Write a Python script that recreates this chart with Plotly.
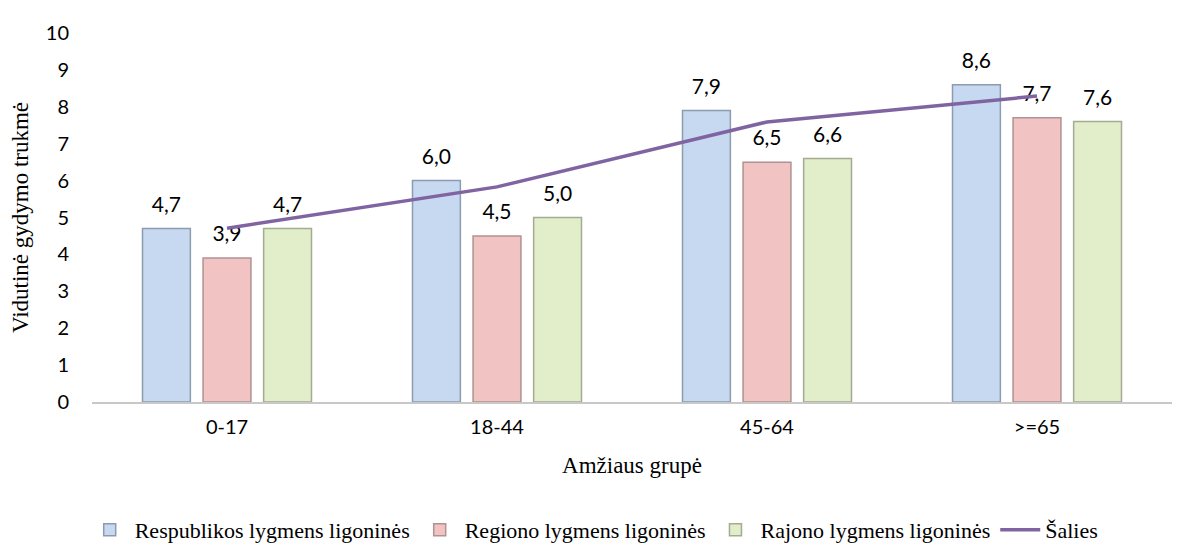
import plotly.graph_objects as go

categories = ["0-17", "18-44", "45-64", ">=65"]
respublikos = [4.7, 6.0, 7.9, 8.6]
regiono = [3.9, 4.5, 6.5, 7.7]
rajono = [4.7, 5.0, 6.6, 7.6]
salies = [4.71, 5.83, 7.59, 8.29]

serif = "Liberation Serif"
sans = "Lato"

fig = go.Figure()
bar_specs = [
    ("Respublikos lygmens ligoninės", respublikos, "#c6d9f0", "#8c9bb0"),
    ("Regiono lygmens ligoninės", regiono, "#f2c3c3", "#b09292"),
    ("Rajono lygmens ligoninės", rajono, "#e2edca", "#a3ab92"),
]
for i, (name, vals, fill, edge) in enumerate(bar_specs):
    fig.add_trace(go.Bar(
        x=categories, y=vals, name=name, offsetgroup=str(i), alignmentgroup="a",
        marker=dict(color=fill, line=dict(color=edge, width=1.5)),
    ))
for i, (name, vals, fill, edge) in enumerate(bar_specs):
    fig.add_trace(go.Scatter(
        x=categories, y=vals, mode="markers+text", offsetgroup=str(i), alignmentgroup="a",
        marker=dict(size=17, opacity=0), showlegend=False, hoverinfo="skip",
        text=[f"{v:.1f}".replace(".", ",") for v in vals], textposition="top center",
        textfont=dict(family=sans, size=21, color="#000000"), cliponaxis=False,
    ))
fig.add_trace(go.Scatter(
    x=categories, y=salies, name="Šalies", mode="lines", offsetgroup="1", alignmentgroup="a",
    line=dict(color="#8064a2", width=3.5),
))

fig.update_layout(
    width=1187, height=537,
    paper_bgcolor="white", plot_bgcolor="white",
    margin=dict(l=80, r=23, t=19, b=143),
    barmode="group", bargap=0.327, bargroupgap=0.21,
    scattermode="group", scattergap=0.327,
    separators=", ",
    showlegend=True,
    legend=dict(orientation="h", x=0.465, xanchor="center", yref="container", y=0.028, yanchor="middle",
                font=dict(family=serif, size=22, color="#000000"), traceorder="normal",
                itemwidth=40),
    xaxis=dict(
        title=dict(text="Amžiaus grupė", font=dict(family=serif, size=23, color="#000000"), standoff=20),
        tickfont=dict(family=sans, size=20, color="#000000"),
        ticklabelstandoff=6,
        showline=True, linecolor="#c8c8c8", linewidth=1.5, ticks="",
        showgrid=False,
    ),
    yaxis=dict(
        title=dict(text="Vidutinė gydymo trukmė", font=dict(family=serif, size=23, color="#000000"), standoff=10),
        tickfont=dict(family=sans, size=20, color="#000000"),
        ticklabelstandoff=22,
        range=[0, 10], dtick=1, showgrid=False, zeroline=False, showline=False,
        ticks="", ticklen=0,
    ),
)

fig.write_html("out.html")
